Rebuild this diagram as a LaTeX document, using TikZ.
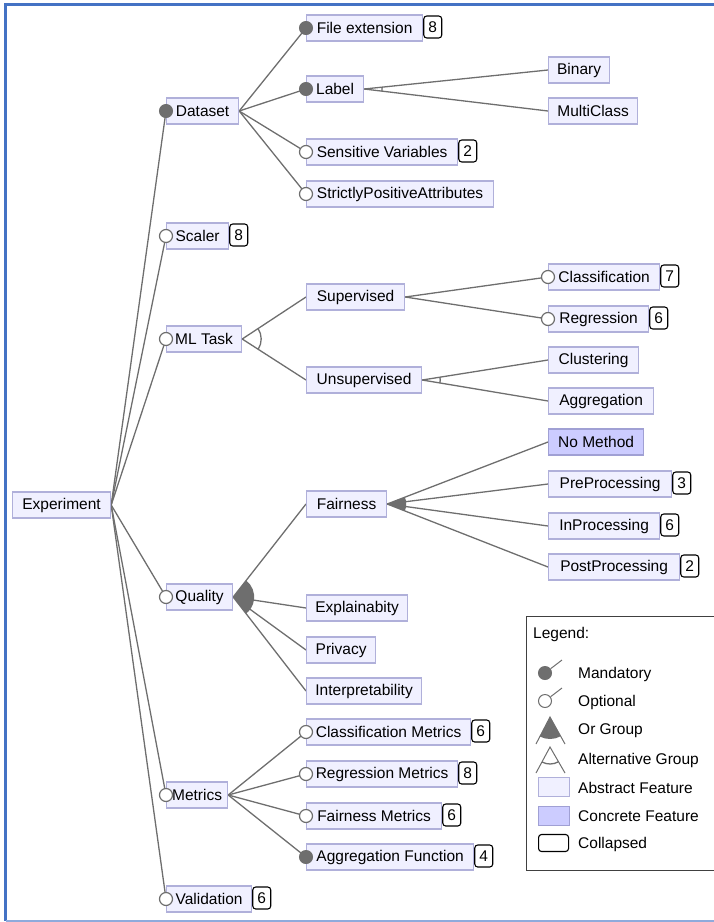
\documentclass[tikz,border=0pt]{standalone}
\usepackage{fontspec}
\setmainfont{Liberation Sans}
\usetikzlibrary{calc,backgrounds}
\definecolor{absfill}{RGB}{240,240,255}
\definecolor{absborder}{RGB}{176,176,218}
\definecolor{concfill}{RGB}{204,204,255}
\definecolor{concborder}{RGB}{160,160,212}
\definecolor{linegray}{RGB}{110,110,110}
\definecolor{frameblue}{RGB}{68,114,196}
\tikzset{
  feat/.style={draw=absborder, fill=absfill, line width=1.2pt, anchor=west,
    minimum height=26pt, inner xsep=0pt, inner ysep=0pt,
    font=\fontsize{15.5}{18}\selectfont, text=black},
  conc/.style={feat, fill=concfill, draw=concborder},
  mandc/.style={circle, fill=linegray, draw=linegray, line width=1pt, minimum size=13pt, inner sep=0pt},
  optc/.style={circle, fill=white, draw=linegray, line width=1.2pt, minimum size=13pt, inner sep=0pt},
  coll/.style={draw=black, fill=white, rounded corners=3pt, line width=1.1pt, anchor=west,
    minimum width=18pt, minimum height=22pt, inner sep=0pt, yshift=1pt,
    font=\fontsize{15.5}{18}\selectfont},
  conn/.style={draw=linegray, line width=1.3pt},
  legtext/.style={anchor=west, inner sep=0pt, font=\fontsize{15.5}{18}\selectfont},
}
\newcommand{\ft}[5]{\node[feat, minimum width=#4pt] (#1) at (#2,#3) {#5};}
\newcommand{\altarc}[4]{\draw[conn] let \p1=($(#2)-(#1)$), \p2=($(#3)-(#1)$),
  \n1={atan2(\y1,\x1)}, \n2={atan2(\y2,\x2)} in
  ($(#1)+(\n1:#4)$) arc[start angle=\n1, end angle=\n2, radius=#4];}
\newcommand{\orfill}[4]{\fill[linegray] let \p1=($(#2)-(#1)$), \p2=($(#3)-(#1)$),
  \n1={atan2(\y1,\x1)}, \n2={atan2(\y2,\x2)} in
  (#1) -- ($(#1)+(\n1:#4)$) arc[start angle=\n1, end angle=\n2, radius=#4] -- cycle;}
\begin{document}
\begin{tikzpicture}[x=1pt, y=-1pt]
\useasboundingbox (0,0) rectangle (713,922);
% frame
\draw[line width=3pt, frameblue] (720,4) -- (5.5,4) -- (5.5,920.5);
\draw[line width=2pt, frameblue!60] (5.5,920.5) -- (720,920.5);

% features
\ft{experiment}{12}{505}{98}{Experiment}
\ft{dataset}{166}{111}{72}{Dataset}
\ft{fileext}{306}{28}{116}{File extension}
\ft{label}{306}{89}{57}{Label}
\ft{sensvar}{306}{152}{151}{Sensitive Variables}
\ft{strict}{306}{194}{187}{StrictlyPositiveAttributes}
\ft{binary}{548}{70}{61}{Binary}
\ft{multiclass}{548}{111}{89}{MultiClass}
\ft{scaler}{166}{236}{62}{Scaler}
\ft{mltask}{166}{339}{75}{ML Task}
\ft{supervised}{306}{297}{98}{Supervised}
\ft{unsupervised}{306}{380}{115}{Unsupervised}
\ft{classification}{548}{277}{111}{Classification}
\ft{regression}{548}{319}{100}{Regression}
\ft{clustering}{548}{360}{90}{Clustering}
\ft{aggregation}{548}{401}{105}{Aggregation}
\ft{quality}{166}{597}{66}{Quality}
\ft{fairness}{306}{504}{80}{Fairness}
\node[conc, minimum width=95pt] (nomethod) at (548,442) {No Method};
\ft{preproc}{548}{484}{123}{PreProcessing}
\ft{inproc}{548}{526}{111}{InProcessing}
\ft{postproc}{548}{567}{131}{PostProcessing}
\ft{explain}{306}{608}{101}{Explainabity}
\ft{privacy}{306}{650}{69}{Privacy}
\ft{interp}{306}{691}{115}{Interpretability}
\ft{metrics}{166}{795}{61}{Metrics}
\ft{classmet}{306}{732}{164}{Classification Metrics}
\ft{regmet}{306}{774}{151}{Regression Metrics}
\ft{fairmet}{306}{816}{135}{Fairness Metrics}
\ft{aggfun}{306}{857}{167}{Aggregation Function}
\ft{validation}{166}{899}{85}{Validation}

% collapsed counters
\node[coll] (fileext-n) at (fileext.east) {8};
\node[coll] (sensvar-n) at (sensvar.east) {2};
\node[coll] (scaler-n) at (scaler.east) {8};
\node[coll] (classification-n) at (classification.east) {7};
\node[coll] (regression-n) at (regression.east) {6};
\node[coll] (preproc-n) at (preproc.east) {3};
\node[coll] (inproc-n) at (inproc.east) {6};
\node[coll] (postproc-n) at (postproc.east) {2};
\node[coll] (classmet-n) at (classmet.east) {6};
\node[coll] (regmet-n) at (regmet.east) {8};
\node[coll] (fairmet-n) at (fairmet.east) {6};
\node[coll] (aggfun-n) at (aggfun.east) {4};
\node[coll] (validation-n) at (validation.east) {6};

% mandatory / optional markers
\node[mandc] (dataset-m) at (dataset.west) {};
\node[mandc] (fileext-m) at (fileext.west) {};
\node[mandc] (label-m) at (label.west) {};
\node[optc] (sensvar-m) at (sensvar.west) {};
\node[optc] (strict-m) at (strict.west) {};
\node[optc] (scaler-m) at (scaler.west) {};
\node[optc] (mltask-m) at (mltask.west) {};
\node[optc] (classification-m) at (classification.west) {};
\node[optc] (regression-m) at (regression.west) {};
\node[optc] (quality-m) at (quality.west) {};
\node[optc] (metrics-m) at (metrics.west) {};
\node[optc] (classmet-m) at (classmet.west) {};
\node[optc] (regmet-m) at (regmet.west) {};
\node[optc] (fairmet-m) at (fairmet.west) {};
\node[mandc] (aggfun-m) at (aggfun.west) {};
\node[optc] (validation-m) at (validation.west) {};

% connectors
\begin{scope}[on background layer]
\foreach \c in {dataset,scaler,mltask,quality,metrics,validation}
  \draw[conn] (experiment.east) -- (\c.west);
\foreach \c in {fileext,label,sensvar,strict}
  \draw[conn] (dataset.east) -- (\c.west);
\foreach \c in {binary,multiclass}
  \draw[conn] (label.east) -- (\c.west);
\altarc{label.east}{binary.west}{multiclass.west}{18pt}
\foreach \c in {supervised,unsupervised}
  \draw[conn] (mltask.east) -- (\c.west);
\altarc{mltask.east}{supervised.west}{unsupervised.west}{19pt}
\foreach \c in {classification,regression}
  \draw[conn] (supervised.east) -- (\c.west);
\foreach \c in {clustering,aggregation}
  \draw[conn] (unsupervised.east) -- (\c.west);
\altarc{unsupervised.east}{clustering.west}{aggregation.west}{18pt}
\foreach \c in {fairness,explain,privacy,interp}
  \draw[conn] (quality.east) -- (\c.west);
\orfill{quality.east}{fairness.west}{interp.west}{21pt}
\foreach \c in {nomethod,preproc,inproc,postproc}
  \draw[conn] (fairness.east) -- (\c.west);
\orfill{fairness.east}{nomethod.west}{postproc.west}{19pt}
\foreach \c in {classmet,regmet,fairmet,aggfun}
  \draw[conn] (metrics.east) -- (\c.west);
\end{scope}

% legend
\draw[line width=1pt, draw=black!75] (526,616) rectangle (720,870);
\node[legtext] (leg-title) at (533,634) {Legend:};
\node[mandc] (lg-mand) at (545,673) {};
\coordinate (lg-mand-t) at (562,660);
\draw[conn, line width=1pt] (lg-mand) -- (lg-mand-t);
\node[legtext] (lg-mand-l) at (578,674) {Mandatory};
\node[optc, line width=1pt] (lg-opt) at (545,701) {};
\coordinate (lg-opt-t) at (562,688);
\draw[conn, line width=1pt] (lg-opt) -- (lg-opt-t);
\node[legtext] (lg-opt-l) at (578,702) {Optional};
\coordinate (lg-or) at (550,717);
\coordinate (lg-or-a) at (536,744);
\coordinate (lg-or-b) at (565,744);
\orfill{lg-or}{lg-or-a}{lg-or-b}{22pt}
\draw[conn, line width=1pt] (lg-or-a) -- (lg-or) -- (lg-or-b);
\node[legtext] (lg-or-l) at (578,731) {Or Group};
\coordinate (lg-alt) at (550,747);
\coordinate (lg-alt-a) at (536,773);
\coordinate (lg-alt-b) at (565,773);
\draw[conn, line width=1pt] (lg-alt-a) -- (lg-alt) -- (lg-alt-b);
\altarc{lg-alt}{lg-alt-a}{lg-alt-b}{17pt}
\node[legtext] (lg-alt-l) at (578,760) {Alternative Group};
\node[feat, minimum width=31pt, minimum height=19pt] (lg-abs) at (538,787) {};
\node[legtext] (lg-abs-l) at (578,788) {Abstract Feature};
\node[conc, minimum width=31pt, minimum height=19pt] (lg-conc) at (538,816) {};
\node[legtext] (lg-conc-l) at (578,816) {Concrete Feature};
\node[coll, minimum width=30pt, minimum height=17pt, yshift=-1pt] (lg-coll) at (538,843) {};
\node[legtext] (lg-coll-l) at (578,844) {Collapsed};
\end{tikzpicture}
\end{document}
